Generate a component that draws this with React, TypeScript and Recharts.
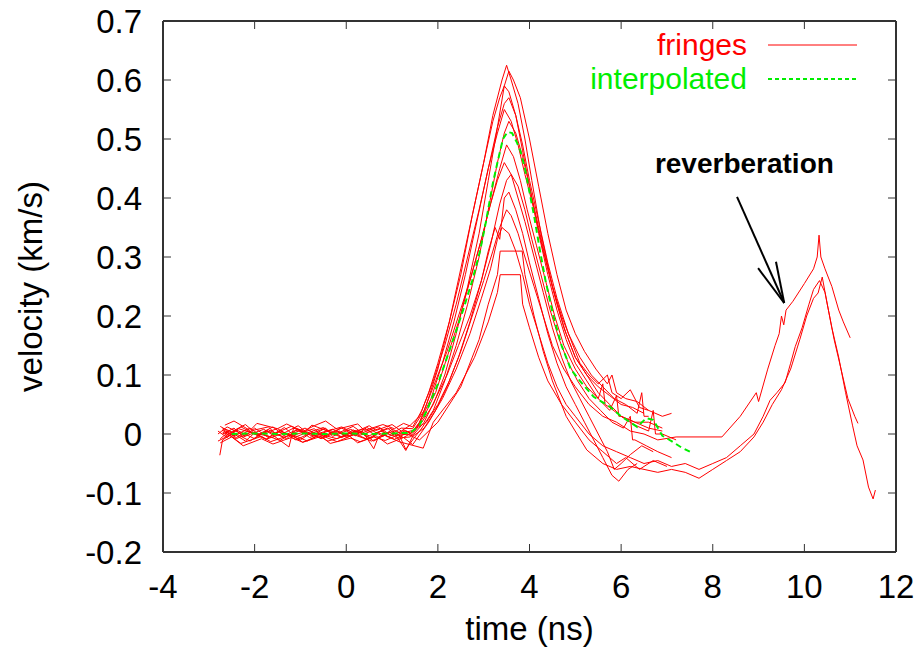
import { LineChart, Line, XAxis, YAxis, ReferenceLine, ReferenceDot } from "recharts";

// fringe velocity traces: [time (ns), velocity (km/s)]
const fringe01: [number, number][] = [
    [-2.7, 0.01], [-2.5, 0.004], [-2.2, 0.016], [-2.05, 0.006], [-1.7, 0.012], [-1.55, 0.001], [-1.2, 0.013],
    [-0.9, 0.004], [-0.75, 0.015], [-0.4, 0.005], [-0.1, 0.012], [0.15, 0.002], [0.5, 0.014], [0.65, 0.006],
    [1.0, 0.016], [1.2, 0.005], [1.4, 0.015],
    [1.6, 0.03], [1.8, 0.07], [2.0, 0.12], [2.25, 0.19], [2.5, 0.27], [2.75, 0.37], [3.0, 0.46], [3.2, 0.54],
    [3.4, 0.6], [3.5, 0.625], [3.6, 0.6], [3.75, 0.56], [3.9, 0.5], [4.05, 0.43], [4.25, 0.34], [4.5, 0.25],
    [4.75, 0.18], [5.0, 0.13], [5.25, 0.1], [5.5, 0.08], [5.75, 0.065], [6.0, 0.05], [6.25, 0.045], [6.5, 0.035],
];
const fringe02: [number, number][] = [
    [-2.8, 0.005], [-2.6, -0.006], [-2.35, 0.009], [-1.9, -0.002], [-1.7, 0.007], [-1.3, -0.008], [-1.1, 0.006],
    [-0.8, 0.0], [-0.45, 0.01], [-0.3, -0.004], [0.1, 0.008], [0.3, -0.002], [0.75, 0.01], [0.9, -0.005],
    [1.25, 0.006], [1.4, 0.002],
    [1.65, 0.02], [1.9, 0.05], [2.15, 0.1], [2.4, 0.17], [2.65, 0.25], [2.9, 0.34], [3.1, 0.43], [3.3, 0.52],
    [3.45, 0.59], [3.55, 0.615], [3.65, 0.6], [3.8, 0.57], [4.0, 0.5], [4.2, 0.42], [4.4, 0.34], [4.6, 0.27],
    [4.8, 0.21], [5.0, 0.17], [5.2, 0.14], [5.45, 0.11], [5.7, 0.085], [5.8, 0.1], [5.9, 0.07], [6.1, 0.06],
    [6.35, 0.055], [6.6, 0.04], [6.9, 0.03], [7.1, 0.035],
];
const fringe03: [number, number][] = [
    [-2.75, -0.008], [-2.55, 0.005], [-2.2, -0.012], [-2.0, 0.002], [-1.6, -0.006], [-1.45, 0.006], [-1.1, -0.01],
    [-0.8, 0.001], [-0.55, -0.008], [-0.15, 0.005], [0.0, -0.006], [0.3, 0.003], [0.6, -0.012], [0.95, 0.004],
    [1.1, -0.007], [1.4, -0.005],
    [1.55, 0.01], [1.75, 0.05], [2.0, 0.11], [2.25, 0.19], [2.5, 0.28], [2.75, 0.37], [3.0, 0.46], [3.2, 0.53],
    [3.35, 0.57], [3.45, 0.59], [3.55, 0.58], [3.7, 0.54], [3.85, 0.48], [4.0, 0.42], [4.2, 0.34], [4.4, 0.27],
    [4.6, 0.21], [4.8, 0.16], [5.0, 0.12], [5.25, 0.09], [5.5, 0.06], [5.6, 0.085], [5.65, 0.05], [5.75, 0.045],
    [6.0, 0.03], [6.3, 0.02], [6.6, 0.01], [6.9, 0.005],
];
const fringe04: [number, number][] = [
    [-2.7, 0.0], [-2.45, 0.01], [-2.25, -0.005], [-1.8, 0.008], [-1.6, -0.002], [-1.25, -0.022], [-1.15, 0.01],
    [-0.75, -0.003], [-0.5, 0.008], [-0.1, -0.006], [0.2, 0.006], [0.5, -0.003], [0.9, 0.01], [1.1, -0.002],
    [1.4, 0.0],
    [1.6, 0.02], [1.85, 0.06], [2.1, 0.12], [2.35, 0.19], [2.6, 0.27], [2.85, 0.36], [3.1, 0.45], [3.3, 0.52],
    [3.45, 0.56], [3.55, 0.57], [3.7, 0.54], [3.85, 0.49], [4.0, 0.43], [4.2, 0.36], [4.4, 0.29], [4.6, 0.23],
    [4.85, 0.17], [5.1, 0.13], [5.35, 0.1], [5.6, 0.08], [5.85, 0.06], [6.1, 0.05], [6.35, 0.035], [6.45, 0.07],
    [6.5, 0.03], [6.6, 0.03],
];
const fringe05: [number, number][] = [
    [-2.65, 0.015], [-2.45, 0.022], [-2.1, 0.006], [-1.95, 0.018], [-1.5, 0.009], [-1.3, 0.017], [-0.95, 0.004],
    [-0.7, 0.014], [-0.45, 0.022], [-0.2, 0.008], [0.25, 0.017], [0.4, 0.006], [0.8, 0.016], [1.05, 0.009],
    [1.25, 0.018], [1.45, 0.012],
    [1.65, 0.04], [1.9, 0.09], [2.15, 0.15], [2.4, 0.22], [2.65, 0.3], [2.9, 0.38], [3.1, 0.45], [3.3, 0.51],
    [3.45, 0.55], [3.6, 0.53], [3.75, 0.49], [3.9, 0.44], [4.1, 0.38], [4.3, 0.31], [4.5, 0.25], [4.7, 0.2],
    [4.9, 0.16], [5.1, 0.12], [5.3, 0.1], [5.5, 0.085], [5.7, 0.1], [5.8, 0.07], [6.0, 0.06], [6.2, 0.075],
    [6.4, 0.045], [6.6, 0.04],
];
const fringe06: [number, number][] = [
    [-2.8, -0.012], [-2.55, -0.002], [-2.3, -0.016], [-1.85, -0.004], [-1.65, -0.013], [-1.2, -0.001], [-0.95, -0.014],
    [-0.6, -0.003], [-0.4, -0.012], [0.05, -0.002], [0.25, -0.015], [0.6, -0.005], [0.85, -0.011], [1.15, -0.001],
    [1.3, -0.026], [1.45, -0.01],
    [1.65, 0.01], [1.9, 0.04], [2.15, 0.09], [2.4, 0.15], [2.65, 0.22], [2.9, 0.3], [3.1, 0.38], [3.3, 0.46],
    [3.45, 0.51], [3.55, 0.53], [3.7, 0.51], [3.85, 0.47], [4.0, 0.42], [4.2, 0.35], [4.4, 0.28], [4.6, 0.22],
    [4.8, 0.17], [5.0, 0.13], [5.25, 0.1], [5.5, 0.07], [5.75, 0.05], [6.0, 0.03], [6.3, 0.015], [6.6, 0.005],
    [6.7, 0.04], [6.75, 0.0], [6.9, 0.0], [7.2, -0.01],
];
const fringe07: [number, number][] = [
    [-2.7, 0.006], [-2.4, -0.006], [-2.15, 0.005], [-1.75, -0.009], [-1.5, 0.004], [-1.1, -0.005], [-0.85, 0.003],
    [-0.55, -0.007], [-0.2, 0.006], [0.0, -0.004], [0.35, 0.005], [0.6, -0.025], [0.7, -0.005], [1.0, 0.004],
    [1.25, -0.006], [1.45, 0.003],
    [1.7, 0.03], [1.95, 0.07], [2.2, 0.13], [2.45, 0.19], [2.7, 0.26], [2.95, 0.33], [3.15, 0.39], [3.35, 0.45],
    [3.5, 0.49], [3.65, 0.47], [3.8, 0.43], [3.95, 0.38], [4.15, 0.32], [4.35, 0.26], [4.55, 0.2], [4.75, 0.15],
    [5.0, 0.11], [5.25, 0.08], [5.5, 0.06], [5.75, 0.04], [5.9, 0.065], [5.95, 0.03], [6.0, 0.03], [6.3, 0.02],
    [6.6, 0.02], [6.9, 0.01],
];
const fringe08: [number, number][] = [
    [-2.75, 0.013], [-2.5, 0.001], [-2.3, 0.012], [-1.95, -0.002], [-1.6, 0.012], [-1.4, 0.0], [-1.05, 0.014],
    [-0.85, 0.002], [-0.5, 0.011], [-0.25, -0.001], [0.15, 0.013], [0.35, 0.002], [0.7, 0.012], [0.95, -0.001],
    [1.2, 0.01], [1.45, 0.009],
    [1.7, 0.04], [1.95, 0.09], [2.2, 0.14], [2.45, 0.2], [2.7, 0.26], [2.95, 0.33], [3.15, 0.39], [3.3, 0.43],
    [3.45, 0.46], [3.6, 0.44], [3.75, 0.4], [3.9, 0.36], [4.1, 0.3], [4.3, 0.24], [4.5, 0.18], [4.7, 0.13],
    [4.9, 0.09], [5.1, 0.06], [5.3, 0.03], [5.5, 0.0], [5.7, -0.03], [5.85, -0.06], [6.0, -0.05], [6.2, -0.035],
    [6.45, -0.02], [6.7, -0.03],
];
const fringe09: [number, number][] = [
    [-2.8, 0.0], [-2.6, 0.012], [-2.2, -0.003], [-2.0, 0.01], [-1.7, -0.006], [-1.35, 0.011], [-1.15, -0.002],
    [-0.7, 0.009], [-0.5, -0.004], [-0.1, 0.01], [0.2, -0.003], [0.45, 0.011], [0.8, -0.004], [1.0, 0.008],
    [1.3, -0.028], [1.45, -0.004],
    [1.7, 0.01], [1.95, 0.04], [2.2, 0.08], [2.45, 0.13], [2.7, 0.19], [2.95, 0.26], [3.15, 0.32], [3.35, 0.39],
    [3.5, 0.43], [3.6, 0.44], [3.75, 0.42], [3.9, 0.38], [4.05, 0.33], [4.25, 0.27], [4.45, 0.21], [4.65, 0.16],
    [4.85, 0.12], [5.05, 0.09], [5.3, 0.06], [5.55, 0.04], [5.8, 0.02], [6.05, 0.01], [6.2, 0.03], [6.25, -0.01],
    [6.3, -0.01], [6.55, -0.02], [6.8, -0.03], [7.1, -0.04],
];
const fringe10: [number, number][] = [
    [-2.65, -0.004], [-2.4, 0.007], [-2.0, -0.008], [-1.75, 0.005], [-1.4, -0.004], [-1.05, 0.008], [-0.8, -0.006],
    [-0.35, 0.006], [-0.1, -0.005], [0.15, 0.007], [0.55, -0.007], [0.75, 0.005], [1.05, -0.004], [1.3, 0.006],
    [1.45, -0.003],
    [1.7, 0.02], [1.95, 0.06], [2.2, 0.1], [2.45, 0.15], [2.7, 0.2], [2.95, 0.26], [3.1, 0.31], [3.25, 0.35],
    [3.35, 0.33], [3.45, 0.4], [3.55, 0.41], [3.7, 0.38], [3.85, 0.34], [4.0, 0.29], [4.2, 0.23], [4.4, 0.17],
    [4.6, 0.12], [4.8, 0.08], [5.0, 0.05], [5.2, 0.02], [5.4, -0.01], [5.6, -0.04], [5.8, -0.07], [5.95, -0.08],
    [6.15, -0.06], [6.35, -0.05],
];
const fringe11: [number, number][] = [
    [-2.7, 0.008], [-2.45, -0.003], [-2.1, 0.01], [-1.9, -0.001], [-1.5, 0.009], [-1.25, -0.002], [-0.9, 0.01],
    [-0.65, 0.0], [-0.3, 0.008], [-0.05, -0.002], [0.4, 0.009], [0.6, 0.0], [0.95, 0.01], [1.2, 0.001],
    [1.45, 0.006],
    [1.75, 0.02], [2.0, 0.05], [2.25, 0.09], [2.5, 0.14], [2.75, 0.2], [3.0, 0.26], [3.2, 0.31], [3.35, 0.35],
    [3.5, 0.38], [3.6, 0.37], [3.75, 0.34], [3.9, 0.3], [4.1, 0.25], [4.3, 0.2], [4.5, 0.15], [4.75, 0.11],
    [5.0, 0.08], [5.3, 0.05], [5.6, 0.03], [5.9, 0.02], [6.2, 0.005], [6.5, 0.0], [6.8, -0.01], [7.2, -0.005],
    [7.7, -0.005], [8.2, -0.005], [8.6, 0.03], [8.95, 0.07], [9.0, 0.055], [9.2, 0.11], [9.36, 0.15], [9.45, 0.17],
    [9.5, 0.2], [9.55, 0.185], [9.6, 0.21], [9.75, 0.225], [10.0, 0.255], [10.2, 0.28], [10.28, 0.3], [10.32, 0.337],
    [10.36, 0.3], [10.45, 0.28], [10.6, 0.25], [10.75, 0.21], [10.85, 0.19], [11.0, 0.163],
];
const fringe12: [number, number][] = [
    [-2.75, -0.015], [-2.5, -0.005], [-2.25, -0.02], [-1.85, -0.008], [-1.6, -0.017], [-1.2, -0.006], [-0.95, -0.014],
    [-0.55, -0.004], [-0.35, -0.016], [0.1, -0.007], [0.3, -0.013], [0.65, -0.003], [0.9, -0.017], [1.25, -0.006],
    [1.45, -0.018],
    [1.8, 0.02], [2.1, 0.06], [2.4, 0.11], [2.7, 0.17], [2.95, 0.23], [3.15, 0.28], [3.3, 0.33], [3.4, 0.35],
    [3.55, 0.34], [3.7, 0.31], [3.85, 0.27], [4.0, 0.22], [4.2, 0.17], [4.4, 0.12], [4.6, 0.08], [4.8, 0.05],
    [5.0, 0.03], [5.3, 0.0], [5.6, -0.02], [5.9, -0.03], [6.2, -0.04], [6.5, -0.05], [6.8, -0.045], [7.1, -0.055],
    [7.4, -0.05], [7.7, -0.06], [8.0, -0.05], [8.3, -0.04], [8.6, -0.02], [8.9, 0.0], [9.1, 0.03], [9.25, 0.057],
    [9.4, 0.07], [9.58, 0.087], [9.7, 0.12], [9.8, 0.148], [9.95, 0.18], [10.1, 0.22], [10.2, 0.245], [10.33, 0.26],
    [10.45, 0.24], [10.6, 0.18], [10.75, 0.13], [10.9, 0.07], [11.05, 0.015], [11.15, -0.02], [11.28, -0.044],
    [11.4, -0.09], [11.5, -0.11], [11.55, -0.095],
];
const fringe13: [number, number][] = [
    [-2.7, 0.003], [-2.4, -0.008], [-2.05, 0.004], [-1.75, -0.009], [-1.35, 0.002], [-1.0, -0.01], [-0.75, 0.003],
    [-0.2, -0.008], [0.05, 0.002], [0.45, -0.009], [0.7, 0.002], [1.05, -0.009], [1.3, 0.001], [1.6, -0.01],
    [2.0, 0.02], [2.5, 0.08], [2.9, 0.16], [3.1, 0.22], [3.3, 0.27], [3.36, 0.31], [3.84, 0.31], [3.9, 0.27],
    [4.1, 0.2], [4.3, 0.14], [4.5, 0.09], [4.8, 0.03], [5.25, -0.027], [5.6, -0.05], [5.9, -0.06], [6.2, -0.055],
    [6.5, -0.06], [6.8, -0.065], [7.1, -0.06], [7.4, -0.065], [7.7, -0.075], [8.0, -0.06], [8.3, -0.045],
    [8.6, -0.03], [8.9, -0.005], [9.1, 0.02], [9.3, 0.05], [9.5, 0.075], [9.7, 0.11], [9.9, 0.16], [10.05, 0.2],
    [10.2, 0.23], [10.3, 0.239], [10.39, 0.266], [10.5, 0.22], [10.65, 0.16], [10.8, 0.11], [10.95, 0.06],
    [11.1, 0.03], [11.17, 0.018],
];
const fringe14: [number, number][] = [
    [-2.76, -0.036], [-2.7, -0.01], [-2.45, 0.002], [-2.1, -0.012], [-1.85, 0.001], [-1.45, -0.011], [-1.2, 0.0],
    [-0.85, -0.012], [-0.6, -0.001], [-0.2, -0.013], [0.2, 0.0], [0.55, -0.012], [0.85, -0.002], [1.15, -0.013],
    [1.68, -0.024],
    [1.9, 0.02], [2.4, 0.07], [2.8, 0.13], [3.1, 0.19], [3.3, 0.24], [3.36, 0.27], [3.8, 0.27], [3.85, 0.22],
    [4.0, 0.18], [4.2, 0.13], [4.4, 0.09], [4.7, 0.05], [5.0, 0.02], [5.3, -0.01], [5.6, -0.03], [5.9, -0.05],
    [6.1, -0.04], [6.4, -0.06], [6.7, -0.045], [7.0, -0.055],
];

const interpolated: [number, number][] = [
    [-2.5, 0.0], [-2.0, 0.001], [-1.5, 0.0], [-1.0, 0.001], [-0.5, 0.0], [0.0, 0.001], [0.5, 0.0], [1.0, 0.001],
    [1.4, 0.002], [1.6, 0.015], [1.76, 0.04], [2.0, 0.085], [2.2, 0.13], [2.4, 0.175], [2.55, 0.21], [2.75, 0.26],
    [2.92, 0.31], [3.05, 0.36], [3.2, 0.425], [3.3, 0.46], [3.42, 0.5], [3.52, 0.512], [3.62, 0.51], [3.72, 0.495],
    [3.8, 0.48], [3.9, 0.45], [4.0, 0.41], [4.1, 0.37], [4.23, 0.31], [4.35, 0.26], [4.52, 0.2], [4.7, 0.15],
    [4.9, 0.11], [5.1, 0.09], [5.4, 0.063], [5.76, 0.046], [6.0, 0.03], [6.35, 0.012], [6.55, 0.027], [6.7, 0.024],
    [6.9, -0.003], [7.1, -0.012], [7.3, -0.022], [7.5, -0.03],
];

const fringes = [
    fringe01, fringe02, fringe03, fringe04, fringe05, fringe06, fringe07,
    fringe08, fringe09, fringe10, fringe11, fringe12, fringe13, fringe14,
];

const xTicks = [-4, -2, 0, 2, 4, 6, 8, 10, 12];
const yTicks = [-0.2, -0.1, 0, 0.1, 0.2, 0.3, 0.4, 0.5, 0.6, 0.7];
const xDomain: [number, number] = [-4, 12];
const yDomain: [number, number] = [-0.2, 0.7];

// annotation arrow (data coordinates)
const arrowTail = { t: 8.53, v: 0.402 };
const arrowTip = { t: 9.56, v: 0.222 };
const arrowBarbs = [{ t: 8.99, v: 0.281 }, { t: 9.38, v: 0.292 }];
const annotationAt = { t: 8.69, v: 0.459 };

const FONT = '"Liberation Sans", Arial, Helvetica, sans-serif';
const RED = "#ff0000";
const GREEN = "#00ee00";
const AXIS = "#333333";
const TICK_LEN = 8;

// plot box in pixels (follows from the chart margins and axis sizes below)
const PLOT = { left: 163, right: 896, top: 21, bottom: 552 };

const toRows = (pts: [number, number][]) => pts.map(([t, v]) => ({ t, v }));

// gnuplot-style ticks: inward, mirrored on the opposite border
const XTick = (props: any) => {
    const { x, y, payload } = props;
    const cx = payload.coordinate;
    return (
        <g>
            <line x1={cx} y1={PLOT.bottom} x2={cx} y2={PLOT.bottom - TICK_LEN} stroke={AXIS} />
            <line x1={cx} y1={PLOT.top} x2={cx} y2={PLOT.top + TICK_LEN} stroke={AXIS} />
            <text x={x} y={y} dy="0.71em" textAnchor="middle" fontSize={33} fontFamily={FONT} fill="#000">
                {payload.value}
            </text>
        </g>
    );
};

const YTick = (props: any) => {
    const { x, y, payload } = props;
    const cy = payload.coordinate;
    return (
        <g>
            <line x1={PLOT.left} y1={cy} x2={PLOT.left + TICK_LEN} y2={cy} stroke={AXIS} />
            <line x1={PLOT.right} y1={cy} x2={PLOT.right - TICK_LEN} y2={cy} stroke={AXIS} />
            <text x={x} y={y} dy="0.355em" textAnchor="end" fontSize={33} fontFamily={FONT} fill="#000">
                {String(payload.value)}
            </text>
        </g>
    );
};

export default function App() {
    return (
        <div style={{ position: "absolute", left: 0, top: 0, width: 922, height: 653, background: "#fff", fontFamily: FONT }}>
            <LineChart width={922} height={653} margin={{ top: 21, right: 26, bottom: 0, left: 0 }}>
                <XAxis
                    xAxisId="b"
                    type="number"
                    dataKey="t"
                    domain={xDomain}
                    ticks={xTicks}
                    allowDataOverflow
                    height={101}
                    tickSize={0}
                    tickMargin={23}
                    tickLine={false}
                    axisLine={{ stroke: AXIS, strokeWidth: 2 }}
                    tick={<XTick />}
                    label={{
                        content: () => (
                            <text x={529.5} y={640} textAnchor="middle" fontSize={33} fontFamily={FONT} fill="#000">
                                time (ns)
                            </text>
                        ),
                    }}
                />
                <YAxis
                    yAxisId="l"
                    type="number"
                    domain={yDomain}
                    ticks={yTicks}
                    allowDataOverflow
                    width={163}
                    tickSize={0}
                    tickMargin={21}
                    tickLine={false}
                    axisLine={{ stroke: AXIS, strokeWidth: 2 }}
                    tick={<YTick />}
                    label={{
                        content: () => (
                            <text
                                x={-286.5}
                                y={42}
                                transform="rotate(-90)"
                                textAnchor="middle"
                                fontSize={33}
                                fontFamily={FONT}
                                fill="#000"
                            >
                                velocity (km/s)
                            </text>
                        ),
                    }}
                />
                {/* top and right borders of the frame */}
                <ReferenceLine xAxisId="b" yAxisId="l" y={yDomain[1]} stroke={AXIS} strokeWidth={2} />
                <ReferenceLine xAxisId="b" yAxisId="l" x={xDomain[1]} stroke={AXIS} strokeWidth={2} />
                {fringes.map((s, i) => (
                    <Line
                        key={i}
                        xAxisId="b"
                        yAxisId="l"
                        data={toRows(s)}
                        dataKey="v"
                        type="linear"
                        stroke={RED}
                        strokeWidth={1}
                        dot={false}
                        activeDot={false}
                        isAnimationActive={false}
                    />
                ))}
                <Line
                    xAxisId="b"
                    yAxisId="l"
                    data={toRows(interpolated)}
                    dataKey="v"
                    type="linear"
                    stroke={GREEN}
                    strokeWidth={2}
                    strokeDasharray="6 4"
                    dot={false}
                    activeDot={false}
                    isAnimationActive={false}
                />
                <ReferenceLine
                    xAxisId="b"
                    yAxisId="l"
                    segment={[{ x: arrowTail.t, y: arrowTail.v }, { x: arrowTip.t, y: arrowTip.v }]}
                    stroke="#000"
                    strokeWidth={2}
                />
                {arrowBarbs.map((b, i) => (
                    <ReferenceLine
                        key={i}
                        xAxisId="b"
                        yAxisId="l"
                        segment={[{ x: b.t, y: b.v }, { x: arrowTip.t, y: arrowTip.v }]}
                        stroke="#000"
                        strokeWidth={2}
                    />
                ))}
                <ReferenceDot
                    xAxisId="b"
                    yAxisId="l"
                    x={annotationAt.t}
                    y={annotationAt.v}
                    r={0}
                    fill="none"
                    stroke="none"
                    label={{ value: "reverberation", position: "center", fill: "#000", fontSize: 28, fontWeight: "bold", fontFamily: FONT }}
                />
            </LineChart>
            <svg width={922} height={653} style={{ position: "absolute", left: 0, top: 0, pointerEvents: "none" }}>
                <text x={747} y={55} textAnchor="end" fontSize={30} fontFamily={FONT} fill={RED}>
                    fringes
                </text>
                <line x1={768} y1={45} x2={857} y2={45} stroke={RED} strokeWidth={1} />
                <text x={747} y={89} textAnchor="end" fontSize={30} fontFamily={FONT} fill={GREEN}>
                    interpolated
                </text>
                <line x1={768} y1={79} x2={857} y2={79} stroke={GREEN} strokeWidth={2} strokeDasharray="4 3" />
            </svg>
        </div>
    );
}
